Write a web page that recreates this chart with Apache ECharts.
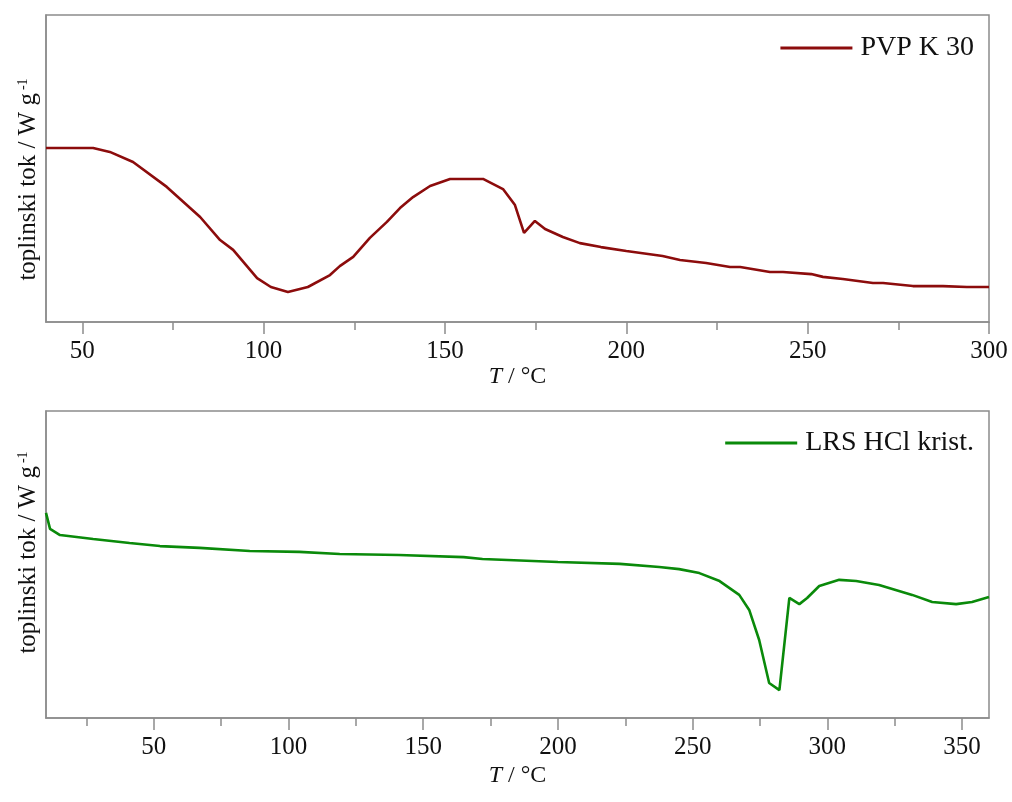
<!DOCTYPE html>
<html>
<head>
<meta charset="utf-8">
<script src="https://cdn.jsdelivr.net/npm/echarts@6/dist/echarts.min.js"></script>
<style>
html,body{margin:0;padding:0;background:#fff;}
#c{width:1012px;height:802px;}
</style>
</head>
<body>
<div id="c"></div>
<script>
// ---- data ----
const pvpName = 'PVP K 30';
const pvpT  = [40, 45, 50, 53, 57.6, 64, 73.3, 82.5, 88, 91.6, 98.2, 102, 106.7, 112.2, 118.3, 121, 124.7, 129.3, 134, 137.6, 141.2, 145.9, 151.4, 160.5, 166, 169.3, 171.8, 174.8, 177.6, 182.5, 187.2, 193, 200, 210, 214.8, 222, 228.6, 231.4, 239.6, 243.2, 251, 254.2, 259.7, 268, 270.8, 279, 287.3, 293.9, 300];
const pvpHF = [5.67, 5.67, 5.67, 5.67, 5.54, 5.21, 4.40, 3.42, 2.67, 2.35, 1.43, 1.14, 0.98, 1.14, 1.53, 1.82, 2.12, 2.74, 3.26, 3.71, 4.07, 4.43, 4.66, 4.66, 4.33, 3.81, 2.90, 3.29, 3.03, 2.77, 2.57, 2.44, 2.31, 2.15, 2.02, 1.92, 1.79, 1.79, 1.63, 1.63, 1.56, 1.47, 1.40, 1.27, 1.27, 1.17, 1.17, 1.14, 1.14];

const lrsName = 'LRS HCl krist.';
const lrsT  = [10, 11.5, 15.2, 27.5, 41, 52.3, 67, 85.6, 104, 119, 141, 165, 172, 200, 223, 237.6, 245, 252.5, 260, 267.3, 271, 274.7, 278.4, 282.2, 285.9, 289.6, 292.5, 297, 304.4, 310.7, 319.2, 331.5, 338.9, 347.8, 353.7, 360];
const lrsHF = [6.68, 6.16, 5.96, 5.83, 5.70, 5.60, 5.54, 5.44, 5.41, 5.34, 5.31, 5.24, 5.18, 5.08, 5.02, 4.92, 4.85, 4.72, 4.46, 4.01, 3.52, 2.54, 1.14, 0.91, 3.91, 3.71, 3.91, 4.30, 4.50, 4.46, 4.33, 4.01, 3.78, 3.71, 3.78, 3.94];

const topRange = [40, 300];
const topMajorTicks = [50, 100, 150, 200, 250, 300];
const topMinorTicks = [75, 125, 175, 225, 275];
const botRange = [10, 360];
const botMajorTicks = [50, 100, 150, 200, 250, 300, 350];
const botMinorTicks = [25, 75, 125, 175, 225, 275, 325];
const yRange = [0, 10];

const xName = '{i|T} / °C';
const yName = '{a|toplinski tok / W g}{s|-1}';

// ---- chart ----
const FONT = 'Liberation Serif';
const AX = '#8c8c8c';
const TXT = '#111';

function zip(a, b) { return a.map((v, i) => [v, b[i]]); }

function mainX(gridIndex, range, ticks, gap) {
  return {
    type: 'value', gridIndex, position: 'bottom', min: range[0], max: range[1],
    name: xName, nameLocation: 'middle', nameGap: gap,
    nameTextStyle: { fontFamily: FONT, fontSize: 24, color: TXT, verticalAlign: 'top',
      rich: { i: { fontFamily: FONT, fontSize: 24, fontStyle: 'italic', color: TXT } } },
    axisLine: { show: true, onZero: false, lineStyle: { color: AX, width: 1.5 } },
    axisTick: { show: true, length: 12, customValues: ticks, lineStyle: { color: AX, width: 1.5 } },
    axisLabel: { show: true, customValues: ticks, margin: 17, fontFamily: FONT, fontSize: 25, color: TXT },
    splitLine: { show: false }
  };
}
function minorX(gridIndex, range, ticks) {
  return {
    type: 'value', gridIndex, position: 'bottom', min: range[0], max: range[1],
    axisLine: { show: false, onZero: false },
    axisTick: { show: true, length: 8, customValues: ticks, lineStyle: { color: AX, width: 1.5 } },
    axisLabel: { show: false },
    splitLine: { show: false }
  };
}
function yAx(gridIndex, padding) {
  return {
    type: 'value', gridIndex, min: yRange[0], max: yRange[1],
    name: yName, nameLocation: 'middle', nameGap: 5,
    nameTextStyle: { fontFamily: FONT, fontSize: 25, color: TXT, padding: padding,
      rich: {
        a: { fontFamily: FONT, fontSize: 25, color: TXT, verticalAlign: 'bottom' },
        s: { fontFamily: FONT, fontSize: 14, color: TXT, verticalAlign: 'top', padding: [0, 0, 0, 3] }
      } },
    axisLine: { show: true, onZero: false, lineStyle: { color: AX, width: 1.5 } },
    axisTick: { show: false },
    axisLabel: { show: false },
    splitLine: { show: false }
  };
}

const chart = echarts.init(document.getElementById('c'), null, { renderer: 'canvas' });
chart.setOption({
  backgroundColor: '#ffffff',
  animation: false,
  grid: [
    { left: 46, right: 23, top: 15, height: 307, show: true, borderColor: AX, borderWidth: 1.5, backgroundColor: 'transparent' },
    { left: 46, right: 23, top: 411, height: 307, show: true, borderColor: AX, borderWidth: 1.5, backgroundColor: 'transparent' }
  ],
  legend: [
    { data: [pvpName], right: 33, top: 29, icon: 'rect', itemWidth: 72, itemHeight: 3, itemGap: 0,
      textStyle: { fontFamily: FONT, fontSize: 28, color: TXT, padding: [0, 0, 0, 3] } },
    { data: [lrsName], right: 33, top: 424, icon: 'rect', itemWidth: 72, itemHeight: 3, itemGap: 0,
      textStyle: { fontFamily: FONT, fontSize: 28, color: TXT, padding: [0, 0, 0, 3] } }
  ],
  xAxis: [
    mainX(0, topRange, topMajorTicks, 42),
    minorX(0, topRange, topMinorTicks),
    mainX(1, botRange, botMajorTicks, 46),
    minorX(1, botRange, botMinorTicks)
  ],
  yAxis: [
    yAx(0, [0, 22, 0, 0]),
    yAx(1, [0, 0, 0, 24])
  ],
  series: [
    { name: pvpName, type: 'line', xAxisIndex: 0, yAxisIndex: 0, data: zip(pvpT, pvpHF),
      symbol: 'none', smooth: false, color: '#8c0c0c', lineStyle: { color: '#8c0c0c', width: 2.6 } },
    { name: lrsName, type: 'line', xAxisIndex: 2, yAxisIndex: 1, data: zip(lrsT, lrsHF),
      symbol: 'none', smooth: false, color: '#0a8a0a', lineStyle: { color: '#0a8a0a', width: 2.6 } }
  ]
});
</script>
</body>
</html>
